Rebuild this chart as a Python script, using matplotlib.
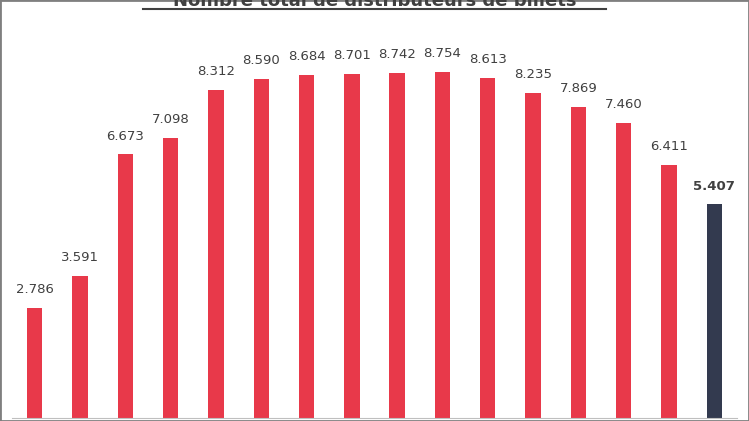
import matplotlib.pyplot as plt
from matplotlib.patches import Rectangle
from matplotlib.lines import Line2D

values = [2786, 3591, 6673, 7098, 8312, 8590, 8684, 8701, 8742, 8754, 8613, 8235, 7869, 7460, 6411, 5407]
labels = ["2.786", "3.591", "6.673", "7.098", "8.312", "8.590", "8.684", "8.701",
          "8.742", "8.754", "8.613", "8.235", "7.869", "7.460", "6.411", "5.407"]
title = "Nombre total de distributeurs de billets"

red = "#e8394a"
navy = "#333a4f"
colors = [red] * (len(values) - 1) + [navy]

fig = plt.figure(figsize=(7.49, 4.21), dpi=100)
ax = fig.add_axes([12 / 749, 3 / 421, 725 / 749, 418 / 421])
x = list(range(len(values)))
ax.bar(x, values, width=0.34, color=colors)
ax.set_xlim(-0.5, len(values) - 0.5)
ax.set_ylim(0, 10580)
for i, (v, lab) in enumerate(zip(values, labels)):
    last = i == len(values) - 1
    ax.text(i, v + 300, lab, ha="center", va="bottom", fontsize=9.5,
            color="#404040", fontweight="bold" if last else "normal")
for s in ["top", "right", "left"]:
    ax.spines[s].set_visible(False)
ax.spines["bottom"].set_color("#bfbfbf")
ax.set_xticks([])
ax.set_yticks([])

fig.text(0.5, 1 - 6 / 421, title, ha="center", va="baseline", fontsize=13,
         fontweight="bold", color="#404040")
fig.add_artist(Line2D([143 / 749, 606 / 749], [1 - 9 / 421, 1 - 9 / 421],
                      color="#404040", lw=1.5))
fig.add_artist(Rectangle((0, 0), 1, 1, transform=fig.transFigure, fill=False,
                         edgecolor="#7f7f7f", lw=2))
fig.savefig("out.png", dpi=100)
